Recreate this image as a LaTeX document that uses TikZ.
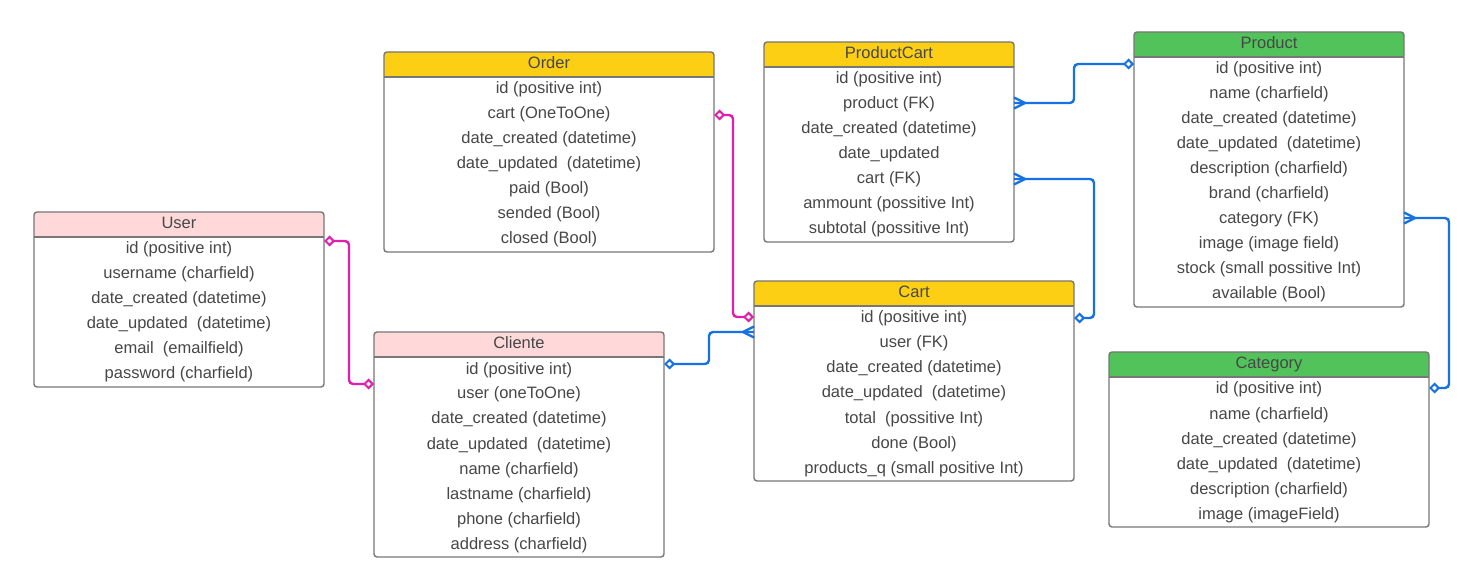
\documentclass[tikz,border=0pt]{standalone}
\usepackage{fontspec}
\setmainfont{Liberation Sans}
\usetikzlibrary{arrows.meta,calc}

\definecolor{boxline}{HTML}{777777}
\definecolor{txt}{HTML}{474747}
\definecolor{hdyellow}{HTML}{FCCE14}
\definecolor{hdgreen}{HTML}{51C35A}
\definecolor{hdpink}{HTML}{FFD9D9}
\definecolor{relpink}{HTML}{E01FAE}
\definecolor{relblue}{HTML}{1672E4}

\tikzset{
  er body/.style={fill=white, inner sep=0pt, outer sep=0pt, anchor=north west},
  er frame/.style={draw=boxline, line width=1.4pt, rounded corners=3pt},
  er text/.style={text=txt, font=\fontsize{16.5}{18}\selectfont, inner sep=0pt, anchor=base},
  rel/.style={line width=2.4pt, rounded corners=4pt},
  onetip/.tip={Diamond[fill=white, length=11pt, width=11pt, line width=2pt]},
}

% entity box: name, left, top, width, number of rows, header colour, title, rows
\newcommand\entity[8]{%
  \begin{scope}[shift={(#2,#3)}]
    \node[er body, minimum width=#4, minimum height=25+25*#5] (#1) at (0,0) {};
    \fill[#6, rounded corners=3pt] (0,0) rectangle (#4,25);
    \fill[#6] (0,12) rectangle (#4,25);
    \draw[boxline, line width=1.4pt] (0,25) -- (#4,25);
    \draw[er frame] (#1.north west) rectangle (#1.south east);
    \node[er text] (#1-title) at (#4/2,17) {#7};
    \foreach \r [count=\i] in {#8}
      \node[er text] (#1-\i) at (#4/2,25*\i+17) {\r};
  \end{scope}}

% crow's foot at a box edge; direction +1 when the line leaves to the right
\newcommand\crowfoot[3]{%
  \draw[rel, #1, rounded corners=0pt]
    ([xshift=#3*11pt]#2) -- ([yshift=5.5pt]#2)
    ([xshift=#3*11pt]#2) -- ([yshift=-5.5pt]#2);}

\begin{document}
\begin{tikzpicture}[x=1pt, y=-1pt]
  \useasboundingbox (0,0) rectangle (1468,585);
  \fill[white] (0,0) rectangle (1468,585);

  \entity{User}{34}{212}{290}{6}{hdpink}{User}{
    id (positive int), username (charfield), date\_created (datetime),
    date\_updated~ (datetime), email~ (emailfield), password (charfield)}

  \entity{Cliente}{374}{332}{290}{8}{hdpink}{Cliente}{
    id (positive int), user (oneToOne), date\_created (datetime),
    date\_updated~ (datetime), name (charfield), lastname (charfield),
    phone (charfield), address (charfield)}

  \entity{Order}{384}{52}{330}{7}{hdyellow}{Order}{
    id (positive int), cart (OneToOne), date\_created (datetime),
    date\_updated~ (datetime), paid (Bool), sended (Bool), closed (Bool)}

  \entity{ProductCart}{764}{42}{250}{7}{hdyellow}{ProductCart}{
    id (positive int), product (FK), date\_created (datetime),
    date\_updated, cart (FK), ammount (possitive Int), subtotal (possitive Int)}

  \entity{Cart}{754}{281}{320}{7}{hdyellow}{Cart}{
    id (positive int), user (FK), date\_created (datetime),
    date\_updated~ (datetime), total~ (possitive Int), done (Bool),
    products\_q (small positive Int)}

  \entity{Product}{1134}{32}{270}{10}{hdgreen}{Product}{
    id (positive int), name (charfield), date\_created (datetime),
    date\_updated~ (datetime), description (charfield), brand (charfield),
    category (FK), image (image field), stock (small possitive Int),
    available (Bool)}

  \entity{Category}{1109}{352}{320}{6}{hdgreen}{Category}{
    id (positive int), name (charfield), date\_created (datetime),
    date\_updated~ (datetime), description (charfield), image (imageField)}

  % connector end points on the box edges
  \coordinate (user-cli)  at ([yshift=-29pt]User.north east);
  \coordinate (cli-user)  at ([yshift=-52pt]Cliente.north west);
  \coordinate (ord-cart)  at ([yshift=-63pt]Order.north east);
  \coordinate (cart-ord)  at ([yshift=-36pt]Cart.north west);
  \coordinate (cli-cart)  at ([yshift=-32pt]Cliente.north east);
  \coordinate (cart-cli)  at ([yshift=-51pt]Cart.north west);
  \coordinate (pc-prod)   at ([yshift=-61pt]ProductCart.north east);
  \coordinate (prod-pc)   at ([yshift=-32pt]Product.north west);
  \coordinate (pc-cart)   at ([yshift=-137pt]ProductCart.north east);
  \coordinate (cart-pc)   at ([yshift=-37pt]Cart.north east);
  \coordinate (prod-cat)  at ([yshift=-186pt]Product.north east);
  \coordinate (cat-prod)  at ([yshift=-36pt]Category.north east);

  % one-to-one relations
  \draw[rel, relpink, onetip-onetip] (user-cli) -- ++(25,0) |- (cli-user);
  \draw[rel, relpink, onetip-onetip] (ord-cart) -- ++(19,0) |- (cart-ord);

  % one-to-many relations
  \draw[rel, relblue, onetip-] (cli-cart) -- ++(45,0) |- (cart-cli);
  \crowfoot{relblue}{cart-cli}{-1}
  \draw[rel, relblue, -onetip] (pc-prod) -- ++(60,0) |- (prod-pc);
  \crowfoot{relblue}{pc-prod}{1}
  \draw[rel, relblue, -onetip] (pc-cart) -- ++(80,0) |- (cart-pc);
  \crowfoot{relblue}{pc-cart}{1}
  \draw[rel, relblue, -onetip] (prod-cat) -- ++(45,0) |- (cat-prod);
  \crowfoot{relblue}{prod-cat}{1}
\end{tikzpicture}
\end{document}
